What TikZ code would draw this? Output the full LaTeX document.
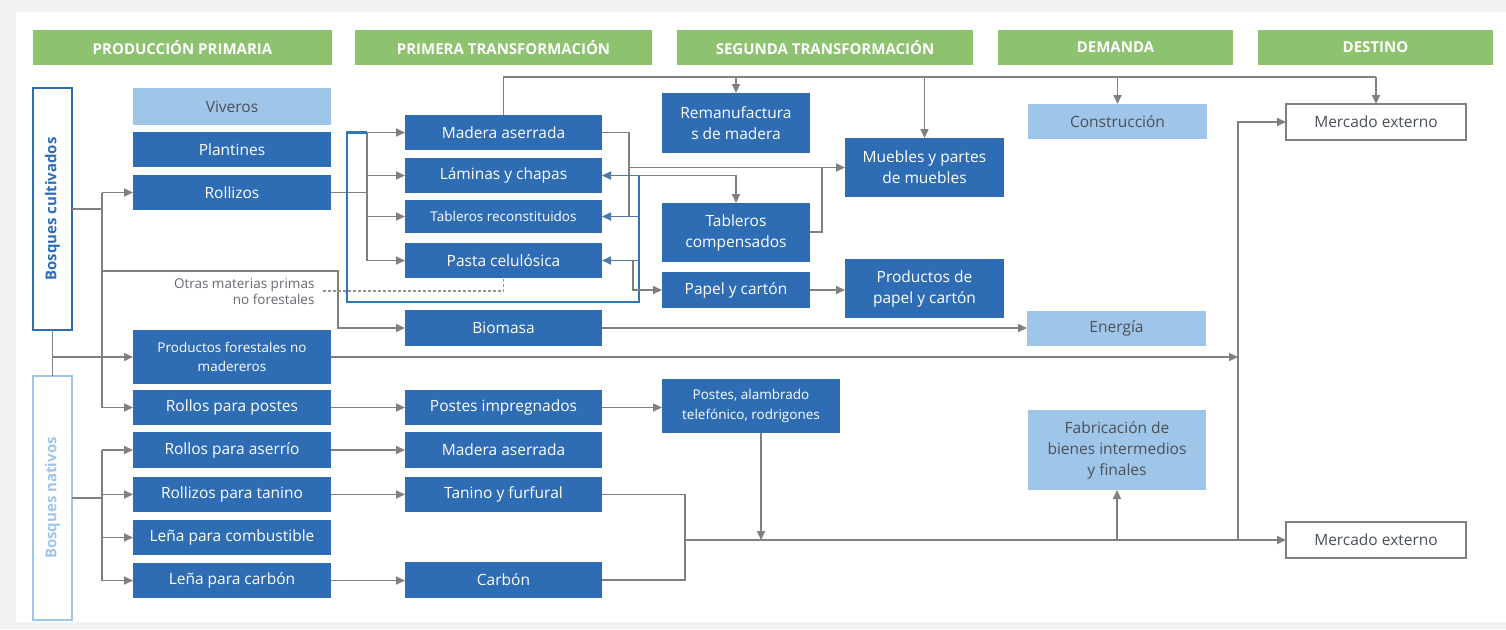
\documentclass[tikz,border=0pt]{standalone}
\usepackage{fontspec}
\setmainfont{Open Sans}
\usetikzlibrary{arrows.meta}
\definecolor{dkblue}{HTML}{2E6DB4}
\definecolor{ltblue}{HTML}{9FC5E8}
\definecolor{hdgreen}{HTML}{8DC26F}
\definecolor{lngray}{HTML}{808080}
\definecolor{txgray}{HTML}{4A5058}
\definecolor{loopblue}{HTML}{2E75B6}
\definecolor{looparr}{HTML}{4F79A8}
\definecolor{dashc}{HTML}{9C9088}
\tikzset{
  base/.style={inner sep=0pt, outer sep=0pt, align=center, font=\fontsize{15.5}{21}\selectfont},
  dk/.style={base, fill=dkblue, text=white},
  dks/.style={dk, font=\fontsize{13.5}{19.5}\selectfont},
  lt/.style={base, fill=ltblue, text=txgray},
  hd/.style={base, fill=hdgreen, text=white, font=\fontsize{15}{17}\selectfont\bfseries},
  ext/.style={base, draw=lngray, line width=1.2pt, fill=white, text=txgray},
  ln/.style={draw=lngray, line width=1.7pt},
  arr/.style={ln, -{Triangle[length=9pt,width=8pt]}},
  larr/.style={draw=looparr, line width=1.7pt, -{Triangle[length=9pt,width=8pt]}},
}
\newcommand\bx[7]{\node[#6, minimum width={#4-#2}, minimum height={#5-#3}] (#1) at ({(#2+#4)/2},{(#3+#5)/2}) {#7};}
\begin{document}
\begin{tikzpicture}[x=1pt,y=-1pt]
\useasboundingbox (0,0) rectangle (1506,629);
\fill[black!5] (0,0) rectangle (1506,629);
\fill[white] (16,12) rectangle (1506,622);
% headers
\bx{h1}{33}{30}{332}{65}{hd}{PRODUCCIÓN PRIMARIA}
\bx{h2}{355}{30}{652}{65}{hd}{PRIMERA TRANSFORMACIÓN}
\bx{h3}{677}{30}{973}{65}{hd}{SEGUNDA TRANSFORMACIÓN}
\bx{h4}{998}{30}{1233}{65}{hd}{DEMANDA}
\bx{h5}{1258}{30}{1493}{65}{hd}{DESTINO}
% forests
\node[base, draw=dkblue, line width=1.5pt, fill=white, minimum width=39, minimum height=242] (bc) at (52.5,209) {};
\node[rotate=90, text=dkblue, font=\fontsize{15}{17}\selectfont\bfseries] (bct) at (bc.center) {Bosques cultivados};
\node[base, draw=ltblue, line width=1.5pt, fill=white, minimum width=39, minimum height=244] (bn) at (52.5,498) {};
\node[rotate=90, text=ltblue, font=\fontsize{15}{17}\selectfont\bfseries] (bnt) at (bn.center) {Bosques nativos};
% primary
\bx{viv}{133}{88}{331}{125}{lt}{Viveros}
\bx{pla}{133}{132}{331}{167}{dk}{Plantines}
\bx{rol}{133}{175}{331}{210}{dk}{Rollizos}
\bx{pfnm}{133}{330}{331}{384}{dks}{Productos forestales no\\madereros}
\bx{rpo}{133}{390}{331}{425}{dk}{Rollos para postes}
\bx{ras}{133}{432}{331}{468}{dk}{Rollos para aserrío}
\bx{rta}{133}{477}{331}{512}{dk}{Rollizos para tanino}
\bx{lco}{133}{520}{331}{555}{dk}{Leña para combustible}
\bx{lca}{133}{563}{331}{598}{dk}{Leña para carbón}
% first transformation
\bx{mad}{405}{115}{602}{150}{dk}{Madera aserrada}
\bx{lam}{405}{158}{602}{193}{dk}{Láminas y chapas}
\bx{tre}{405}{200}{602}{233}{dks}{Tableros reconstituidos}
\bx{pas}{405}{243}{602}{278}{dk}{Pasta celulósica}
\bx{bio}{405}{310}{602}{346}{dk}{Biomasa}
\bx{pim}{405}{390}{602}{425}{dk}{Postes impregnados}
\bx{madd}{405}{432}{602}{468}{dk}{Madera aserrada}
\bx{tan}{405}{477}{602}{512}{dk}{Tanino y furfural}
\bx{car}{405}{562}{602}{598}{dk}{Carbón}
% second transformation
\bx{rem}{662}{93}{810}{153}{dk}{Remanufactura\\s de madera}
\bx{tco}{662}{203}{810}{262}{dk}{Tableros\\compensados}
\bx{pap}{662}{272}{810}{308}{dk}{Papel y cartón}
\bx{mue}{845}{138}{1004}{197}{dk}{Muebles y partes\\de muebles}
\bx{ppc}{845}{259}{1004}{318}{dk}{Productos de\\papel y cartón}
\bx{pal}{662}{379}{840}{433}{dks}{Postes, alambrado\\telefónico, rodrigones}
% demand
\bx{con}{1028}{104}{1207}{139}{lt}{Construcción}
\bx{ene}{1027}{311}{1206}{346}{lt}{Energía}
\bx{fab}{1028}{410}{1206}{490}{lt}{Fabricación de\\bienes intermedios\\y finales}
% destination
\bx{me1}{1286}{104}{1466}{140}{ext}{Mercado externo}
\bx{me2}{1286}{522}{1466}{558}{ext}{Mercado externo}
% label
\node[anchor=east, align=right, text=txgray!85, font=\fontsize{13.5}{16}\selectfont] (otras) at (318,292) {Otras materias primas\\no forestales};
% coordinates
\coordinate (t1) at (102,209);
\coordinate (t2) at (102,498);
\coordinate (t3) at (367,192.5);
\coordinate (jb) at (1238,540);
\coordinate (jt) at (1238,122);
\coordinate (jc) at (685,540);
% cultivated trunk
\draw[ln] (bc.east |- t1) -- (t1);
\draw[ln] (102,192.5) -- (102,407.5);
\draw[arr] (102,192.5) -- (rol.west);
\draw[arr] (102,407.5) -- (rpo.west);
\draw[arr] (102,271) -- (338,271) -- (338,328) -- (bio.west);
\draw[ln] (bc.south) -- (bn.north);
\draw[arr] (52,357) -- (pfnm.west);
% native trunk
\draw[ln] (bn.east |- t2) -- (t2);
\draw[ln] (102,450) -- (102,580.5);
\draw[arr] (102,450) -- (ras.west);
\draw[arr] (102,494.5) -- (rta.west);
\draw[arr] (102,537.5) -- (lco.west);
\draw[arr] (102,580.5) -- (lca.west);
% rollizos to first transformation
\draw[ln] (rol.east) -- (t3);
\draw[ln] (367,132.5) -- (367,260.5);
\draw[arr] (367,132.5) -- (mad.west);
\draw[arr] (367,175.5) -- (lam.west);
\draw[arr] (367,216.5) -- (tre.west);
\draw[arr] (367,260.5) -- (pas.west);
% blue loop
\draw[draw=loopblue, line width=2.2pt] (367,132.5) -- (347,132.5) -- (347,302) -- (639,302) -- (639,175.5);
% madera aserrada right
\draw[ln] (mad.east) -- (629,132.5) -- (629,216.5);
\draw[arr] (629,167.5) -- (mue.west);
\draw[ln] (tco.east |- 0,232) -- (822,232) -- (822,167.5);
% laminas to tableros compensados
\draw[arr] (639,175.5) -- (736,175.5) -- (tco.north);
% pasta to papel
\draw[arr] (633,260.5) -- (633,290) -- (pap.west);
\draw[larr] (639,175.5) -- (lam.east);
\draw[larr] (639,216.5) -- (tre.east);
\draw[larr] (639,260.5) -- (pas.east);
\draw[arr] (pap.east) -- (ppc.west |- pap.east);
% dashed
\draw[draw=dashc, line width=1.3pt, dash pattern=on 3pt off 2pt] (323,291) -- (503.5,291) -- (pas.south);
% top line
\draw[ln] (mad.north) -- (503.5,77) -- (1376,77);
\draw[arr] (736,77) -- (rem.north);
\draw[arr] (924.5,77) -- (mue.north);
\draw[arr] (1117.5,77) -- (con.north);
\draw[arr] (1376,77) -- (me1.north);
% biomasa, pfnm
\draw[arr] (bio.east) -- (ene.west |- bio.east);
\draw[arr] (pfnm.east) -- (1238,357);
\draw[arr] (jb) -- (jt) -- (me1.west);
% postes chain
\draw[arr] (rpo.east) -- (pim.west |- rpo.east);
\draw[arr] (pim.east) -- (pal.west |- pim.east);
\draw[arr] (ras.east) -- (madd.west |- ras.east);
\draw[arr] (rta.east) -- (tan.west |- rta.east);
\draw[arr] (lca.east) -- (car.west |- lca.east);
% bottom collector
\draw[ln] (tan.east) -- (685,494.5) -- (685,580) -- (car.east);
\draw[arr] (jc) -- (me2.west);
\draw[arr] (pal.south -| 761,0) -- (761,540);
\draw[arr] (1117,540) -- (fab.south);
\end{tikzpicture}
\end{document}
